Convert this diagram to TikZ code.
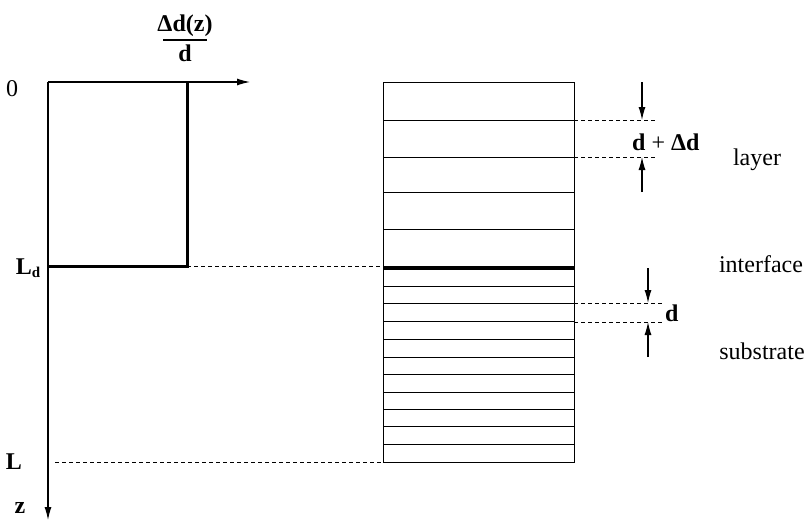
\documentclass[tikz,border=0pt]{standalone}
\usepackage{fontspec}
\setmainfont{Liberation Serif}
\usetikzlibrary{arrows.meta}
\begin{document}
\begin{tikzpicture}[x=1pt,y=-1pt,
  thin line/.style={line width=1pt},
  thick line/.style={line width=3pt},
  dash line/.style={line width=0.9pt,dash pattern=on 4pt off 3pt},
  arr/.style={-{Latex[length=13pt,width=7pt]},line width=1.1pt},
  lbl/.style={font=\fontsize{24}{28}\selectfont,inner sep=0pt}]
\useasboundingbox (0,0) rectangle (809,522);
% left axes
\coordinate (o) at (48,82);
\coordinate (xe) at (250,82);
\coordinate (ze) at (48,520);
\draw[arr] (o) -- (xe);
\draw[arr] (o) -- (ze);
\coordinate (a) at (187,82);
\coordinate (b) at (187,266);
\coordinate (c) at (48,266);
\draw[thick line] (a) -- (b) -- (c);
% box
\coordinate (bx1) at (383,82);
\coordinate (bx2) at (574,462);
\draw[thin line] (bx1) rectangle (bx2);
\foreach \y in {120,157,192,229,286,303,321,339,357,374,392,409,426,444}
  \draw[thin line] (383,\y) -- (574,\y);
\draw[line width=3.2pt] (383,268) -- (574,268);
% dashed guides
\draw[dash line] (b) -- (383,266);
\draw[dash line] (55,462) -- (383,462);
\draw[dash line] (574,120) -- (655,120);
\draw[dash line] (574,157) -- (655,157);
\draw[dash line] (574,303) -- (662,303);
\draw[dash line] (574,322) -- (662,322);
% dimension arrows
\draw[arr] (642,82) -- (642,120);
\draw[arr] (642,192) -- (642,157);
\draw[arr] (648,268) -- (648,303);
\draw[arr] (648,357) -- (648,322);
% labels
\node[lbl] (t0) at (12,89) {0};
\node[lbl] (tld) at (28,268) {\textbf{L}\raisebox{-0.3ex}{\fontsize{15}{16}\selectfont\textbf{d}}};
\node[lbl] (tl) at (14,462) {\textbf{L}};
\node[lbl] (tz) at (20,508) {\textbf{z}};
\node[lbl] (tf) at (185,26) {\textbf{Δd(z)}};
\draw[line width=1.3pt] (163,40) -- (207,40);
\node[lbl] (tfd) at (185,53) {\textbf{d}};
\node[lbl,anchor=west] (tdd) at (632,142) {\textbf{d} + \textbf{Δd}};
\node[lbl,anchor=west] (td) at (665,313) {\textbf{d}};
\node[lbl] (tlay) at (757,160) {layer};
\node[lbl] (tint) at (761,264) {interface};
\node[lbl] (tsub) at (762,351) {substrate};
\end{tikzpicture}
\end{document}
